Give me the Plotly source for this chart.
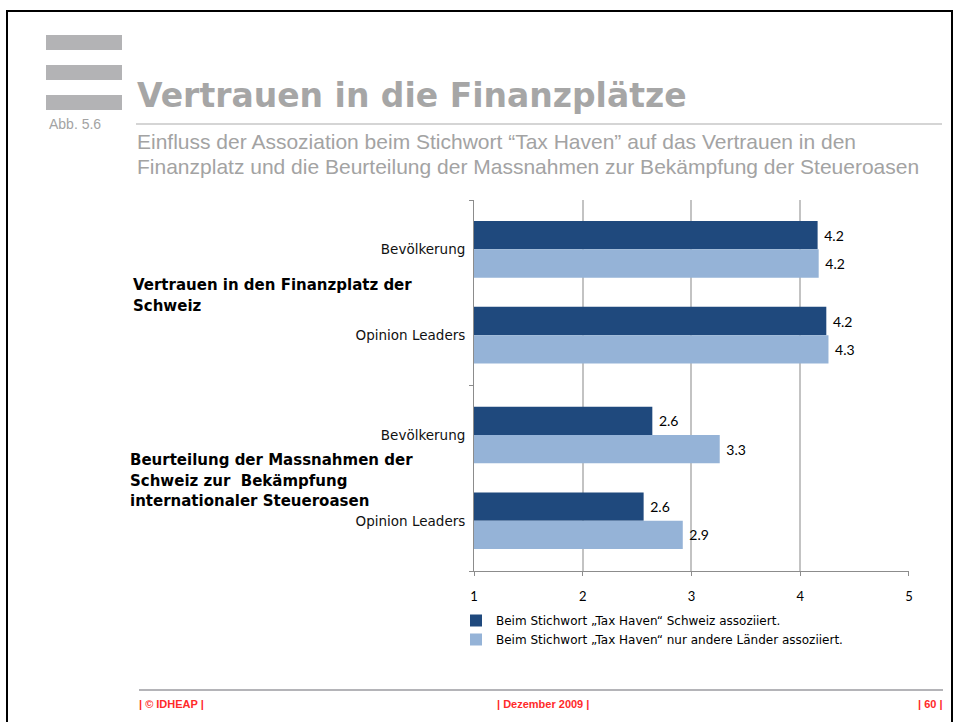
import plotly.graph_objects as go

# ---------------- data ----------------
group_lines = [
    ["Vertrauen in den Finanzplatz der", "Schweiz"],
    ["Beurteilung der Massnahmen der", "Schweiz zur  Bekämpfung", "internationaler Steueroasen"],
]
subgroups = ["Bevölkerung", "Opinion Leaders"]
series_names = [
    "Beim Stichwort „Tax Haven“ Schweiz assoziiert.",
    "Beim Stichwort „Tax Haven“ nur andere Länder assoziiert.",
]
values_schweiz = [4.16, 4.24, 2.64, 2.56]
values_andere = [4.17, 4.26, 3.26, 2.92]
x_ticks = [1, 2, 3, 4, 5]

title_text = "Vertrauen in die Finanzplätze"
subtitle_lines = [
    "Einfluss der Assoziation beim Stichwort “Tax Haven” auf das Vertrauen in den",
    "Finanzplatz und die Beurteilung der Massnahmen zur Bekämpfung der Steueroasen",
]
fig_label = "Abb. 5.6"
footer_left = "| © IDHEAP |"
footer_mid = "| Dezember 2009 |"
footer_right = "| 60 |"

# ---------------- layout helpers ----------------
W, H = 954, 722
L, R, T, B = 474, 909, 200, 571
GROUP_GAP = 0.163
PAD_TOP, PAD_BOT = 0.575, 0.585


def PX(px):
    return (px - L) / (R - L)


def PY(py):
    return (B - py) / (B - T)


n_sub = len(subgroups)
pos = []
ticktext = []
for gi in range(len(group_lines)):
    for si, s in enumerate(subgroups):
        pos.append(gi * (n_sub + GROUP_GAP) + si)
        ticktext.append(s)
y_top = pos[0] - PAD_TOP
y_bot = pos[-1] + PAD_BOT
boundaries = [y_top] + [
    ((gi - 1) * (n_sub + GROUP_GAP) + n_sub - 1 + gi * (n_sub + GROUP_GAP)) / 2 for gi in range(1, len(group_lines))
] + [y_bot]

DARK = "#1F497D"
LIGHT = "#95B3D7"

fig = go.Figure()
for name, vals, col in [(series_names[0], values_schweiz, DARK), (series_names[1], values_andere, LIGHT)]:
    fig.add_trace(go.Bar(
        y=pos, x=[v - 1 for v in vals], base=1, orientation="h", name=name,
        marker=dict(color=col, line=dict(width=0)),
        text=[f"{v:.1f}" for v in vals], texttemplate="&nbsp;%{text}",
        textposition="outside", cliponaxis=False, constraintext="none",
        textfont=dict(family="Lato, Open Sans, sans-serif", size=14, color="#000000"),
        hoverinfo="skip",
    ))

# invisible trace to activate secondary y axis (boundary ticks)
fig.add_trace(go.Scatter(x=[None], y=[None], yaxis="y2", showlegend=False, hoverinfo="skip"))

annotations = []
shapes = []

# group labels
for gi, lines in enumerate(group_lines):
    center = (pos[gi * n_sub] + pos[gi * n_sub + n_sub - 1]) / 2
    n = len(lines)
    xs = 131 if gi == 0 else 128
    for li, line in enumerate(lines):
        annotations.append(dict(
            text="<b>" + line + "</b>", xref="paper", yref="y", x=PX(xs), y=center,
            yshift=-((li - (n - 1) / 2) * 20.5 + 3), xanchor="left", yanchor="middle",
            showarrow=False, font=dict(family="DejaVu Sans", size=15, color="#000000"),
        ))

# title block
annotations.append(dict(text="<b>" + title_text + "</b>", xref="paper", yref="paper",
                        x=PX(135), y=PY(95.5), xanchor="left", yanchor="middle", showarrow=False,
                        font=dict(family="DejaVu Sans", size=33, color="#A6A6A6")))
for i, line in enumerate(subtitle_lines):
    annotations.append(dict(text=line, xref="paper", yref="paper",
                            x=PX(135), y=PY(142 + 25 * i), xanchor="left", yanchor="middle", showarrow=False,
                            font=dict(family="Liberation Sans, Arial", size=21, color="#A3A3A3")))
annotations.append(dict(text=fig_label, xref="paper", yref="paper",
                        x=PX(47), y=PY(124), xanchor="left", yanchor="middle", showarrow=False,
                        font=dict(family="Liberation Sans, Arial", size=14, color="#A3A3A3")))

# footer
for txt, xp, anc in [(footer_left, 137, "left"), (footer_mid, 543, "center"), (footer_right, 945, "right")]:
    annotations.append(dict(text="<b>" + txt + "</b>", xref="paper", yref="paper",
                            x=PX(xp), y=PY(704), xanchor=anc, yanchor="middle", showarrow=False,
                            font=dict(family="Liberation Sans, Arial", size=11, color="#FF2A2A")))

# logo bars
for y0 in [35, 65, 95]:
    shapes.append(dict(type="rect", xref="paper", yref="paper", x0=PX(46), x1=PX(122),
                       y0=PY(y0), y1=PY(y0 + 15), fillcolor="#B3B3B5", line=dict(width=0), layer="above"))
# title rule
shapes.append(dict(type="line", xref="paper", yref="paper", x0=PX(136), x1=PX(942),
                   y0=PY(124), y1=PY(124), line=dict(color="#ABABAB", width=1)))
# footer rule
shapes.append(dict(type="line", xref="paper", yref="paper", x0=PX(139), x1=PX(943),
                   y0=PY(690), y1=PY(690), line=dict(color="#B4B4B8", width=2)))
# page frame
shapes.append(dict(type="rect", xref="paper", yref="paper", x0=PX(7), x1=PX(952),
                   y0=PY(11), y1=PY(740), line=dict(color="#000000", width=2), fillcolor="rgba(0,0,0,0)"))

fig.update_layout(
    width=W, height=H,
    margin=dict(l=L, r=W - R, t=T, b=H - B, pad=0),
    paper_bgcolor="white", plot_bgcolor="white",
    barmode="group", bargap=0.34, bargroupgap=0,
    showlegend=True,
    legend=dict(x=PX(456), y=PY(606), xanchor="left", yanchor="top",
                font=dict(family="DejaVu Sans", size=12, color="#000000"),
                itemwidth=30, tracegroupgap=0, bgcolor="rgba(0,0,0,0)"),
    xaxis=dict(range=[1, 5.0005], tickvals=x_ticks, ticktext=[str(t) for t in x_ticks],
               showgrid=True, gridcolor="#C3C3C3", gridwidth=1.5,
               showline=True, linecolor="#8C8C8C", linewidth=1,
               ticks="outside", ticklen=4, tickcolor="#8C8C8C",
               ticklabelstandoff=9, zeroline=False,
               tickfont=dict(family="Lato, Open Sans, sans-serif", size=13, color="#000000")),
    yaxis=dict(range=[y_bot, y_top], tickvals=pos, ticktext=ticktext,
               showgrid=False, zeroline=False,
               showline=True, linecolor="#8C8C8C", linewidth=1,
               ticks="", ticklabelstandoff=5,
               tickfont=dict(family="DejaVu Sans", size=13.5, color="#111111")),
    yaxis2=dict(range=[y_bot, y_top], overlaying="y", side="left", anchor="x",
                tickvals=boundaries, ticktext=["" for _ in boundaries], showticklabels=False,
                ticks="outside", ticklen=4, tickcolor="#8C8C8C",
                showgrid=False, zeroline=False, showline=False),
    annotations=annotations, shapes=shapes,
    font=dict(family="DejaVu Sans"),
)

fig.write_html("out.html", config={"displayModeBar": False},
               post_script="document.body.style.margin='0';document.body.style.overflow='hidden';")
